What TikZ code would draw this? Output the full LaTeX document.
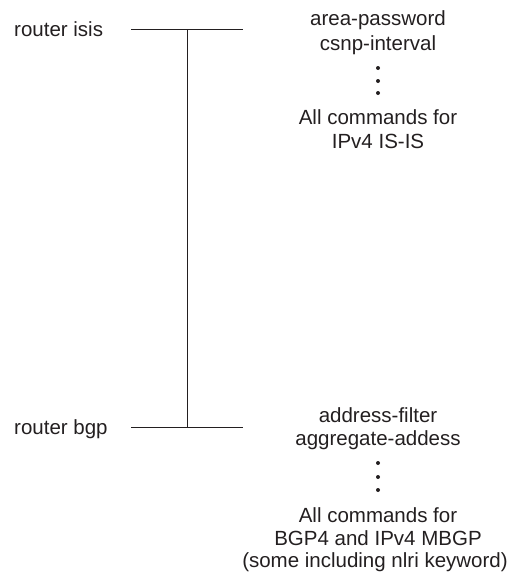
\documentclass[tikz,border=0pt]{standalone}
\usepackage{fontspec}
\setmainfont{Liberation Sans}
\newcommand{\cmdfont}{\fontsize{20.5}{24}\selectfont}
\definecolor{inkgray}{HTML}{231F20}

\begin{document}
\begin{tikzpicture}[x=1pt, y=-1pt,
  lbl/.style={font=\cmdfont, text=inkgray, anchor=base west, inner sep=0pt},
  cmd/.style={font=\cmdfont, text=inkgray, anchor=base, inner sep=0pt},
  vdot/.style={circle, fill=inkgray, draw=none, inner sep=0pt, minimum size=4pt},
  tree/.style={draw=inkgray, line width=0.8pt}
]
\useasboundingbox (0,0) rectangle (509,573);

% router modes
\node[lbl] (isis) at (14,36)  {router isis};
\node[lbl] (bgp)  at (14,434) {router bgp};

\coordinate (isisL) at (131,29);
\coordinate (isisJ) at (187,29);
\coordinate (isisR) at (243,29);
\coordinate (bgpL)  at (131,427);
\coordinate (bgpJ)  at (187,427);
\coordinate (bgpR)  at (243,427);

\draw[tree] (isisL) -- (isisR);
\draw[tree] (bgpL)  -- (bgpR);
\draw[tree] (isisJ) -- (bgpJ);

% IS-IS commands
\node[cmd] (isisA) at (378,25)  {area-password};
\node[cmd] (isisB) at (378,50)  {csnp-interval};
\node[vdot] (isisD1) at (378,68) {};
\node[vdot] (isisD2) at (378,81) {};
\node[vdot] (isisD3) at (378,93) {};
\node[cmd] (isisC) at (378,124) {All commands for};
\node[cmd] (isisE) at (378,148) {IPv4 IS-IS};

% BGP commands
\node[cmd] (bgpA) at (378,422) {address-filter};
\node[cmd] (bgpB) at (378,445) {aggregate-addess};
\node[vdot] (bgpD1) at (378,463) {};
\node[vdot] (bgpD2) at (378,477) {};
\node[vdot] (bgpD3) at (378,490) {};
\node[cmd] (bgpC) at (378,522) {All commands for};
\node[cmd] (bgpE) at (378,545) {BGP4 and IPv4 MBGP};
\node[cmd] (bgpF) at (375,567) {(some including nlri keyword)};
\end{tikzpicture}
\end{document}
